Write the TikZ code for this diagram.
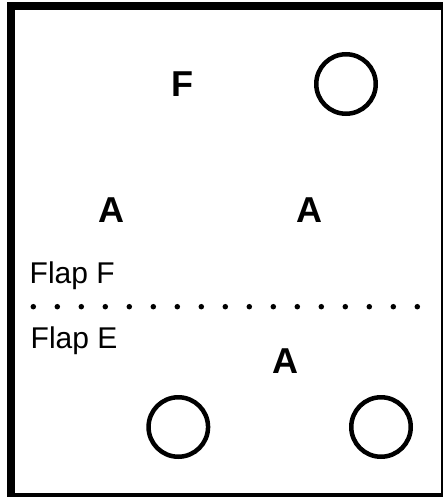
\documentclass[tikz,border=0pt]{standalone}
\usepackage{fontspec}
\setmainfont{Liberation Sans}
\begin{document}
\begin{tikzpicture}[x=1pt, y=-1pt,
  flaplabel/.style={font=\fontsize{30}{30}\selectfont, inner sep=0pt, anchor=base west},
  mark label/.style={font=\fontsize{36}{36}\bfseries\selectfont, inner sep=0pt, anchor=base},
  hole/.style={draw, circle, line width=4.5pt, minimum size=59.5pt, inner sep=0pt}]
\useasboundingbox (0,0) rectangle (443,497);
\clip (0,0) rectangle (443,497);

\def\xl{10.75}; % sheet left
\def\xr{445}; % sheet right
\def\yt{6}; % sheet top
\def\yb{497}; % sheet bottom

\draw[line width=8.5pt] (\xl, \yt) rectangle (\xr, \yb);

% fold line
\def\yf{306.7};
\coordinate (fold l) at (33.3, \yf);
\coordinate (fold r) at (420, \yf);
\draw[line width=5.5pt, line cap=round, dash pattern=on 0pt off 24pt] (fold l) -- (fold r);

\node[flaplabel] (flapF) at (29.5, 283.3) {Flap F};
\node[flaplabel] (flapE) at (30.5, 348.3) {Flap E};

\node[mark label] (f) at (182, 96.7) {F};
\node[mark label] (a1) at (111, 222.3) {A};
\node[mark label] (a2) at (309, 222.3) {A};
\node[mark label] (a3) at (285.5, 373.3) {A};

\node[hole] (h1) at (346, 84) {};
\node[hole] (h2) at (178.3, 427) {};
\node[hole] (h3) at (381, 427) {};

\end{tikzpicture}
\end{document}
